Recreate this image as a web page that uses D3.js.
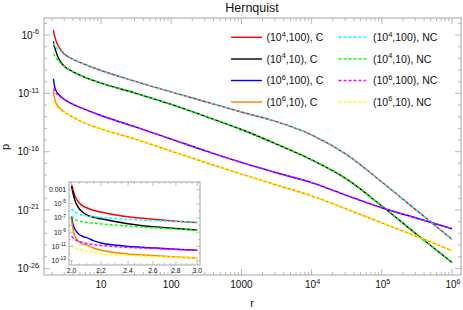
<!DOCTYPE html>
<html>
<head>
<meta charset="utf-8">
<script src="https://cdn.jsdelivr.net/npm/d3@7"></script>
<style>
body { margin: 0; background: #fff; }
text { font-family: "Liberation Sans", Arial, sans-serif; fill: #111; }
</style>
</head>
<body>
<svg id="chart" width="463" height="310"></svg>
<script>
// radius grid shared by every curve (dense near r = 2, half decades further out)
var rVals = [2.0, 2.01, 2.02, 2.035, 2.05, 2.07, 2.1, 2.15, 2.2, 2.3, 2.4, 2.5, 2.6, 2.8, 3.0,
             4, 5, 7, 10, 31.6, 100, 316, 1000, 3162, 1e4, 31623, 1e5, 316228, 1e6];

// log10(p), C runs
var lpRed    = [-2.3, -3.0, -3.75, -4.45, -4.85, -5.25, -5.55, -5.92, -6.15, -6.53, -6.82, -7.0, -7.17, -7.44, -7.62,
                -8.08, -8.35, -8.7, -9.04, -9.99, -10.88, -11.74, -12.6, -13.42, -14.55, -16.25, -18.6, -21.05, -23.51];
var lpBlack  = [-2.5, -3.5, -4.4, -5.15, -5.68, -6.1, -6.55, -6.9, -7.1, -7.47, -7.8, -8.03, -8.2, -8.48, -8.68,
                -9.15, -9.43, -9.8, -10.12, -11.0, -11.95, -13.0, -14.1, -15.35, -16.7, -18.35, -20.65, -23.1, -25.5];
var lpBlue   = [-6.75, -7.9, -8.5, -8.95, -9.3, -9.55, -9.75, -10.2, -10.5, -10.8, -10.98, -11.1, -11.2, -11.38, -11.52,
                -11.95, -12.2, -12.55, -12.9, -13.9, -14.92, -15.95, -16.92, -17.8, -18.65, -19.75, -20.8, -21.7, -22.6];
var lpOrange = [-7.2, -8.6, -9.45, -10.0, -10.35, -10.6, -10.8, -11.25, -11.52, -11.85, -12.05, -12.18, -12.28, -12.46, -12.6,
                -13.05, -13.35, -13.72, -14.05, -14.95, -15.95, -16.95, -17.92, -18.85, -19.78, -20.92, -22.1, -23.25, -24.48];

// NC runs for r = 2 .. 3; further out they lie on the matching C curve
var lpCyanNear    = [-5.68, -5.95, -6.12, -6.3, -6.45, -6.58, -6.68, -6.8, -6.9, -7.05, -7.18, -7.27, -7.34, -7.47, -7.57];
var lpGreenNear   = [-6.75, -7.0, -7.15, -7.32, -7.43, -7.52, -7.62, -7.72, -7.82, -7.98, -8.12, -8.25, -8.36, -8.55, -8.7];
var lpMagentaNear = [-9.56, -9.8, -9.97, -10.15, -10.28, -10.42, -10.58, -10.74, -10.86, -11.0, -11.12, -11.2, -11.28, -11.42, -11.54];
var lpYellowNear  = [-10.75, -10.98, -11.12, -11.3, -11.42, -11.55, -11.68, -11.88, -12.0, -12.15, -12.25, -12.33, -12.4, -12.52, -12.62];

var labelsC  = [["4", "100), C"], ["4", "10), C"], ["6", "100), C"], ["6", "10), C"]];
var labelsNC = [["4", "100), NC"], ["4", "10), NC"], ["6", "100), NC"], ["6", "10), NC"]];

var xTickLabels = [["10", ""], ["100", ""], ["1000", ""], ["10", "4"], ["10", "5"], ["10", "6"]];
var yTickExps = [-6, -11, -16, -21, -26];
var insetXTicks = [2.0, 2.2, 2.4, 2.6, 2.8, 3.0];
var insetYLabels = [["0.001", ""], ["10", "-5"], ["10", "-7"], ["10", "-9"], ["10", "-11"], ["10", "-13"]];
var insetYExps = [-3, -5, -7, -9, -11, -13];

var nearN = lpCyanNear.length;
var series = [
  {lp: lpRed, color: "#ff0000", dash: null},
  {lp: lpBlack, color: "#000000", dash: null},
  {lp: lpBlue, color: "#0000ff", dash: null},
  {lp: lpOrange, color: "#ff8000", dash: null},
  {lp: lpCyanNear.concat(lpRed.slice(nearN)), color: "#00ffff", dash: "3,2"},
  {lp: lpGreenNear.concat(lpBlack.slice(nearN)), color: "#00ff00", dash: "3,2"},
  {lp: lpMagentaNear.concat(lpBlue.slice(nearN)), color: "#ff00ff", dash: "3,2"},
  {lp: lpYellowNear.concat(lpOrange.slice(nearN)), color: "#ffff00", dash: "3,2"}
];

var svg = d3.select("#chart");
var frameColor = "#a6a6a6";

// ---------- main plot ----------
var L = 44, T = 18, R = 461, B = 275;
var x = d3.scaleLog().domain([Math.pow(10, 0.188), Math.pow(10, 6.128)]).range([L, R]);
var y = d3.scaleLog().domain([Math.pow(10, -26.566), Math.pow(10, -4.543)]).range([B, T]);

svg.append("defs").append("clipPath").attr("id", "mainClip")
  .append("rect").attr("x", L).attr("y", T).attr("width", R - L).attr("height", B - T);

var line = d3.line()
  .x(function(d){ return x(d[0]); })
  .y(function(d){ return y(Math.pow(10, d[1])); })
  .curve(d3.curveMonotoneX);

var gMain = svg.append("g").attr("clip-path", "url(#mainClip)");
series.forEach(function(s){
  var pts = rVals.map(function(r, i){ return [r, s.lp[i]]; })
                 .filter(function(d){ return d[0] >= 2.1; });
  gMain.append("path")
    .attr("d", line(pts))
    .attr("fill", "none")
    .attr("stroke", s.color)
    .attr("stroke-width", 1.4)
    .attr("stroke-dasharray", s.dash);
});

// frame
svg.append("rect").attr("x", L).attr("y", T).attr("width", R - L).attr("height", B - T)
  .attr("fill", "none").attr("stroke", frameColor).attr("stroke-width", 1);

var ticks = svg.append("g").attr("stroke", frameColor).attr("stroke-width", 0.8);
for (var k = 0; k <= 6; k++) {
  for (var m = 1; m <= 9; m++) {
    var v = m * Math.pow(10, k);
    if (v < x.domain()[0] || v > x.domain()[1]) continue;
    var len = (m === 1) ? 6 : 3;
    var px = x(v);
    ticks.append("line").attr("x1", px).attr("x2", px).attr("y1", B).attr("y2", B - len);
    ticks.append("line").attr("x1", px).attr("x2", px).attr("y1", T).attr("y2", T + len);
  }
}
for (var e = -26; e <= -5; e++) {
  var py = y(Math.pow(10, e));
  var ylen = (yTickExps.indexOf(e) >= 0) ? 6 : 3;
  ticks.append("line").attr("x1", L).attr("x2", L + ylen).attr("y1", py).attr("y2", py);
  ticks.append("line").attr("x1", R).attr("x2", R - ylen).attr("y1", py).attr("y2", py);
}

function powLabel(g, px, py, base, sup, size, anchor) {
  var t = g.append("text").attr("x", px).attr("y", py)
    .attr("font-size", size).attr("text-anchor", anchor);
  t.append("tspan").text(base);
  if (sup) t.append("tspan").attr("dy", -size * 0.42).attr("font-size", size * 0.72).text(sup);
  return t;
}

xTickLabels.forEach(function(lb, i){
  powLabel(svg, x(Math.pow(10, i + 1)) + (lb[1] ? 1 : 0), 288, lb[0], lb[1], 10, "middle");
});
yTickExps.forEach(function(e){
  powLabel(svg, 39, y(Math.pow(10, e)) + 3.5, "10", String(e), 10, "end");
});

svg.append("text").attr("x", 252).attr("y", 12).attr("text-anchor", "middle")
  .attr("font-size", 12.5).text("Hernquist");
svg.append("text").attr("x", 252).attr("y", 307).attr("text-anchor", "middle")
  .attr("font-size", 11).text("r");
svg.append("text").attr("transform", "translate(9,147) rotate(-90)").attr("text-anchor", "middle")
  .attr("font-size", 11).text("p");

// legend
var legRows = [37.3, 59, 80.5, 102];
[labelsC, labelsNC].forEach(function(labels, col){
  var lx0 = col === 0 ? 231 : 338.5, lx1 = col === 0 ? 262 : 366, tx = col === 0 ? 266.5 : 373;
  labels.forEach(function(lb, i){
    var s = series[col * 4 + i];
    svg.append("line").attr("x1", lx0).attr("x2", lx1).attr("y1", legRows[i]).attr("y2", legRows[i])
      .attr("stroke", s.color).attr("stroke-width", 1.4).attr("stroke-dasharray", s.dash);
    var t = svg.append("text").attr("x", tx).attr("y", legRows[i] + 3.8).attr("font-size", 10.5);
    t.append("tspan").text("(10");
    t.append("tspan").attr("dy", -4.5).attr("font-size", 7.5).text(lb[0]);
    t.append("tspan").attr("dy", 4.5).text("," + lb[1]);
  });
});

// ---------- inset ----------
var iL = 69, iT = 182, iR = 200, iB = 265;
var xi = d3.scaleLog().domain([Math.pow(10, 0.2975), Math.pow(10, 0.4809)]).range([iL, iR]);
var yi = d3.scaleLog().domain([Math.pow(10, -13.6), Math.pow(10, -1.92)]).range([iB, iT]);

svg.append("rect").attr("x", iL).attr("y", iT).attr("width", iR - iL).attr("height", iB - iT)
  .attr("fill", "#fff");
svg.select("defs").append("clipPath").attr("id", "insetClip")
  .append("rect").attr("x", iL).attr("y", iT).attr("width", iR - iL).attr("height", iB - iT);

var lineI = d3.line()
  .x(function(d){ return xi(d[0]); })
  .y(function(d){ return yi(Math.pow(10, d[1])); })
  .curve(d3.curveMonotoneX);

var gIn = svg.append("g").attr("clip-path", "url(#insetClip)");
series.forEach(function(s){
  var pts = rVals.map(function(r, i){ return [r, s.lp[i]]; })
                 .filter(function(d){ return d[0] <= 3.0; });
  gIn.append("path")
    .attr("d", lineI(pts))
    .attr("fill", "none")
    .attr("stroke", s.color)
    .attr("stroke-width", 1.5)
    .attr("stroke-dasharray", s.dash);
});

svg.append("rect").attr("x", iL).attr("y", iT).attr("width", iR - iL).attr("height", iB - iT)
  .attr("fill", "none").attr("stroke", frameColor).attr("stroke-width", 1);

var ticksI = svg.append("g").attr("stroke", frameColor).attr("stroke-width", 0.7);
for (var xv = 2.0; xv <= 3.001; xv += 0.05) {
  var major = Math.abs(xv * 5 - Math.round(xv * 5)) < 1e-6;
  var l2 = major ? 4 : 2;
  ticksI.append("line").attr("x1", xi(xv)).attr("x2", xi(xv)).attr("y1", iB).attr("y2", iB - l2);
  ticksI.append("line").attr("x1", xi(xv)).attr("x2", xi(xv)).attr("y1", iT).attr("y2", iT + l2);
}
for (var ei = -13; ei <= -2; ei++) {
  var pyi = yi(Math.pow(10, ei));
  var l3 = (insetYExps.indexOf(ei) >= 0) ? 4 : 2;
  ticksI.append("line").attr("x1", iL).attr("x2", iL + l3).attr("y1", pyi).attr("y2", pyi);
  ticksI.append("line").attr("x1", iR).attr("x2", iR - l3).attr("y1", pyi).attr("y2", pyi);
}
insetXTicks.forEach(function(v){
  svg.append("text").attr("x", xi(v)).attr("y", 272.5).attr("text-anchor", "middle")
    .attr("font-size", 6.8).text(v.toFixed(1));
});
insetYLabels.forEach(function(lb, i){
  powLabel(svg, 66, yi(Math.pow(10, insetYExps[i])) + 2.4, lb[0], lb[1], 6.8, "end");
});
</script>
</body>
</html>
